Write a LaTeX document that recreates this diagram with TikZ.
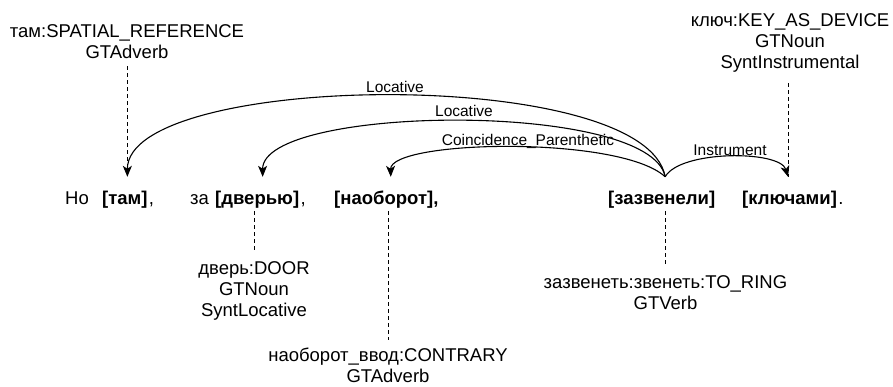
\documentclass[tikz,border=0pt]{standalone}
\usepackage{fontspec}
\setmainfont{Liberation Sans}
\usetikzlibrary{arrows.meta}
\begin{document}
\begin{tikzpicture}[x=1pt,y=-1pt,
  wd/.style={inner sep=0pt, anchor=base west, font=\fontsize{18.5}{21}\selectfont, text height=13pt, text depth=5pt},
  bw/.style={wd, font=\fontsize{18.5}{21}\selectfont\bfseries},
  lbl/.style={align=center, inner sep=0pt, anchor=base, font=\fontsize{18.5}{21}\selectfont},
  rel/.style={font=\fontsize{15.5}{18}\selectfont, inner sep=0pt, anchor=base},
  arc/.style={line width=1.1pt, -{Stealth[length=11pt,width=9pt,inset=3pt]}},
  dsh/.style={line width=1pt, dash pattern=on 4pt off 3pt}
]
\useasboundingbox (0,0) rectangle (893,386);
% words
\node[wd] (no) at (65,204) {Но};
\node[bw] (tam) at (102,204) {[там]};
\node[wd] (tamc) at ([xshift=1pt]tam.base east) {,};
\node[wd] (za) at (190,204) {за};
\node[bw] (dver) at (215,204) {[дверью]};
\node[wd] (dverc) at ([xshift=1pt]dver.base east) {,};
\node[bw] (nao) at (334,204) {[наоборот],};
\node[bw] (zaz) at (608,204) {[зазвенели]};
\node[bw] (kl) at (742,204) {[ключами]};
\node[wd] (klp) at ([xshift=1pt]kl.base east) {.};
% anchor points of arcs
\coordinate (zazT) at ([xshift=3.5pt,yshift=14pt]zaz.north);
\coordinate (tamT) at ([xshift=2.5pt,yshift=14pt]tam.north);
\coordinate (dverT) at ([xshift=5.5pt,yshift=14pt]dver.north);
\coordinate (naoT) at ([xshift=4.5pt,yshift=14pt]nao.north);
\coordinate (klT) at ([xshift=-1.5pt,yshift=14pt]kl.north);
% labels (base = baseline of last line)
\node[lbl] (tamlbl) at (127,58) {там:SPATIAL\_REFERENCE\\GTAdverb};
\node[lbl] (kllbl) at (790,68) {ключ:KEY\_AS\_DEVICE\\GTNoun\\SyntInstrumental};
\node[lbl] (dverlbl) at (254,316) {дверь:DOOR\\GTNoun\\SyntLocative};
\node[lbl] (naolbl) at (388,382) {наоборот\_ввод:CONTRARY\\GTAdverb};
\node[lbl] (zazlbl) at (665.5,309) {зазвенеть:звенеть:TO\_RING\\GTVerb};
% arcs
\draw[arc] (zazT) .. controls (645,65) and (127,72) .. (tamT);
\draw[arc] (zazT) .. controls (650,100) and (262,105) .. (dverT);
\draw[arc] (zazT) .. controls (620,135) and (390,140) .. (naoT);
\draw[arc] (zazT) .. controls (680,150) and (780,150) .. (klT);
\node[rel] (r1) at (395,92) {Locative};
\node[rel] (r2) at (464,116) {Locative};
\node[rel] (r3) at (528,145) {Coincidence\_Parenthetic};
\node[rel] (r4) at (730,155) {Instrument};
% dashed
\draw[dsh, shorten <=8pt] (tamlbl.south) -- (tamlbl.south |- tamT);
\draw[dsh, shorten <=11pt] (klT |- kllbl.south) -- (klT);
\draw[dsh, shorten <=2pt, shorten >=9pt] (dverlbl.north |- dver.south) -- (dverlbl.north);
\draw[dsh, shorten <=2pt, shorten >=7pt] (naolbl.north |- nao.south) -- (naolbl.north);
\draw[dsh, shorten <=2pt, shorten >=9pt] (zazlbl.north |- zaz.south) -- (zazlbl.north);
\end{tikzpicture}
\end{document}
